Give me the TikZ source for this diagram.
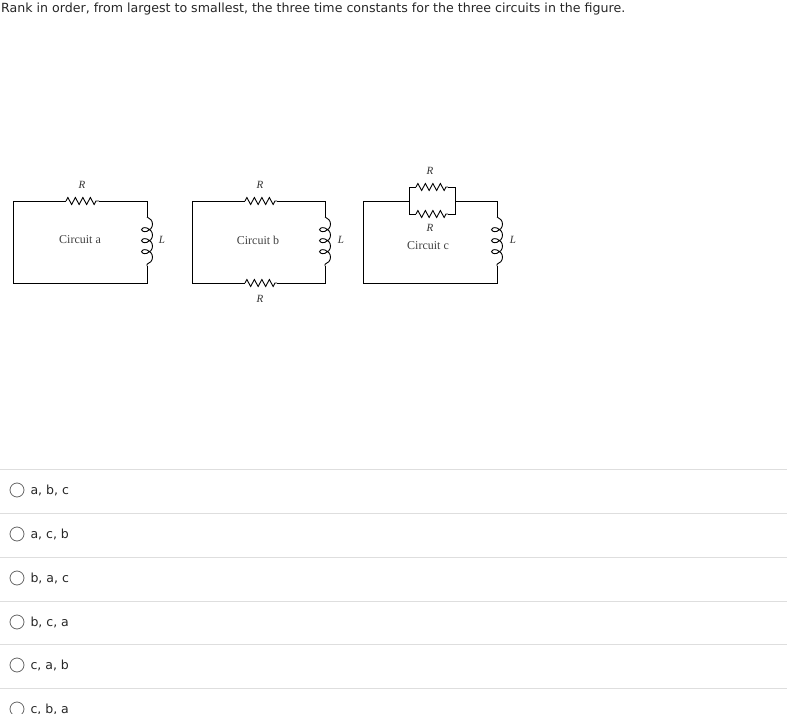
\documentclass[tikz,border=0pt]{standalone}
\usepackage{fontspec}
\setmainfont{DejaVu Sans}
\newfontfamily\serifc{Liberation Serif}
\usetikzlibrary{decorations.pathmorphing}
\begin{document}
\begin{tikzpicture}[x=1pt,y=-1pt,
  wire/.style={line width=0.9pt},
  res/.style={wire,decorate,decoration={zigzag,segment length=7.5pt,amplitude=3.5pt}},
  ind/.style={wire,decorate,decoration={coil,aspect=0.8,segment length=11pt,amplitude=5.5pt}},
  lbl/.style={font=\serifc\fontsize{12}{13}\selectfont,text=black!75},
  sym/.style={font=\serifc\itshape\fontsize{11}{12}\selectfont,text=black!80},
  sep/.style={draw=black!13,line width=0.8pt},
  radio/.style={circle,draw=black!60,line width=0.8pt,minimum size=14pt,inner sep=0pt},
  opt/.style={anchor=west,font=\fontsize{12.5}{15}\selectfont,text=black!85}]
\useasboundingbox (0,0) rectangle (787,714);
\node[anchor=north west,inner sep=0pt,font=\fontsize{12.6}{15}\selectfont,text=black!85] (q) at (1,3) {Rank in order, from largest to smallest, the three time constants for the three circuits in the figure.};
% circuit a
\coordinate (a1) at (13,201); \coordinate (a2) at (66,201); \coordinate (a3) at (99,201);
\coordinate (a4) at (147,201); \coordinate (a5) at (147,217); \coordinate (a6) at (147,266);
\coordinate (a7) at (147,283); \coordinate (a8) at (13,283);
\draw[wire] (a2) -- (a1) -- (a8) -- (a7) -- (a6);
\draw[wire] (a3) -- (a4) -- (a5);
\draw[res] (a2) -- (a3);
\draw[ind] (a5) -- (a6);
\node[sym] (aR) at (82,185) {R};
\node[sym] (aL) at (162,240) {L};
\node[lbl] (aT) at (80,240) {Circuit a};
% circuit b
\coordinate (b1) at (192,201); \coordinate (b2) at (245,201); \coordinate (b3) at (277,201);
\coordinate (b4) at (325,201); \coordinate (b5) at (325,217); \coordinate (b6) at (325,266);
\coordinate (b7) at (325,283); \coordinate (b8) at (192,283);
\coordinate (b9) at (277,283); \coordinate (b10) at (245,283);
\draw[wire] (b2) -- (b1) -- (b8) -- (b10);
\draw[wire] (b9) -- (b7) -- (b6);
\draw[wire] (b3) -- (b4) -- (b5);
\draw[res] (b2) -- (b3);
\draw[res] (b10) -- (b9);
\draw[ind] (b5) -- (b6);
\node[sym] (bR) at (260,185) {R};
\node[sym] (bR2) at (260,299) {R};
\node[sym] (bL) at (341,240) {L};
\node[lbl] (bT) at (258,240) {Circuit b};
% circuit c
\coordinate (c1) at (363,201); \coordinate (cl) at (409,201); \coordinate (cr) at (455,201);
\coordinate (c4) at (497,201); \coordinate (c5) at (497,217); \coordinate (c6) at (497,266);
\coordinate (c7) at (497,283); \coordinate (c8) at (363,283);
\coordinate (ct1) at (409,187); \coordinate (ct2) at (455,187);
\coordinate (cb1) at (409,214); \coordinate (cb2) at (455,214);
\coordinate (cu1) at (416,187); \coordinate (cu2) at (448,187);
\coordinate (cd1) at (416,214); \coordinate (cd2) at (448,214);
\draw[wire] (cl) -- (c1) -- (c8) -- (c7) -- (c6);
\draw[wire] (cr) -- (c4) -- (c5);
\draw[wire] (cu1) -- (ct1) -- (cb1) -- (cd1);
\draw[wire] (cu2) -- (ct2) -- (cb2) -- (cd2);
\draw[res] (cu1) -- (cu2);
\draw[res] (cd1) -- (cd2);
\draw[ind] (c5) -- (c6);
\node[sym] (cR) at (430,171) {R};
\node[sym] (cR2) at (430,228) {R};
\node[sym] (cL) at (513,240) {L};
\node[lbl] (cT) at (428,246) {Circuit c};
% options
\foreach \y/\t [count=\i] in {490/{a, b, c},534/{a, c, b},578/{b, a, c},622/{b, c, a},665/{c, a, b},709/{c, b, a}}{
  \draw[sep] (0,\y-21) -- (787,\y-21);
  \node[radio] (r\i) at (17,\y) {};
  \node[opt] (o\i) at (27,\y) {\t};
}
\end{tikzpicture}
\end{document}
